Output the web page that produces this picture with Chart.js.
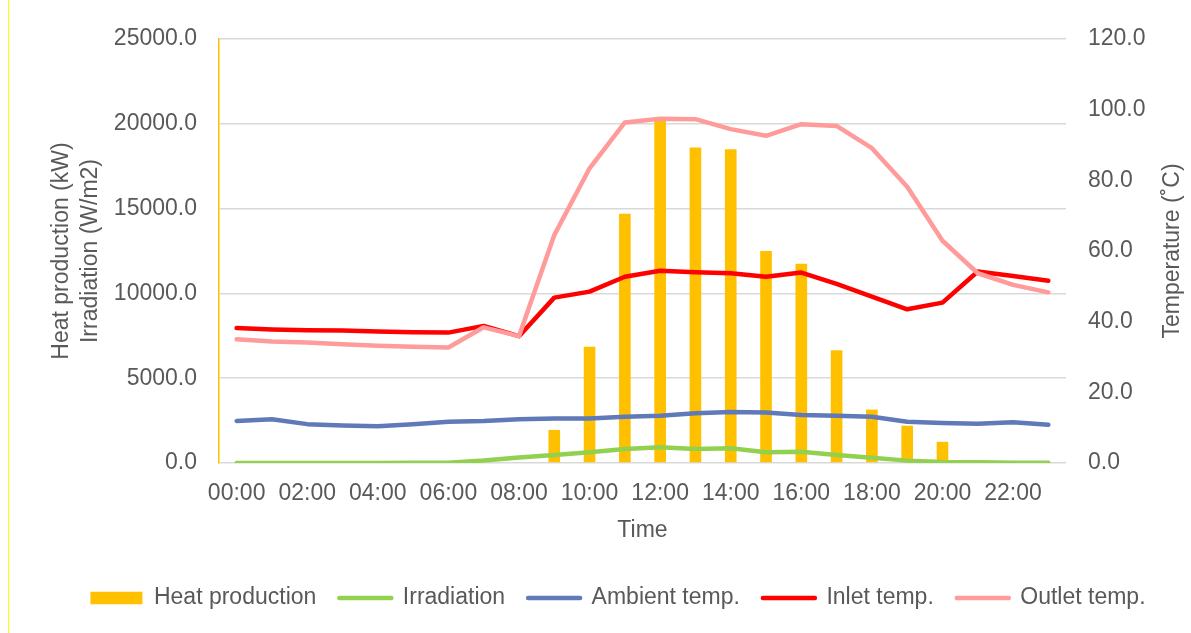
<!DOCTYPE html>
<html>
<head>
<meta charset="utf-8">
<title>Heat production and temperatures</title>
<script src="https://cdn.jsdelivr.net/npm/chart.js@4.4.1/dist/chart.umd.min.js"></script>
<style>
  html, body { margin: 0; padding: 0; background: #fff; }
  #wrap { position: relative; width: 1191px; height: 633px; }
</style>
</head>
<body>
<div id="wrap"><canvas id="chart" width="1191" height="633"></canvas></div>
<script>
// Hourly data
const hours = ['00:00', '01:00', '02:00', '03:00', '04:00', '05:00', '06:00', '07:00',
  '08:00', '09:00', '10:00', '11:00', '12:00', '13:00', '14:00', '15:00',
  '16:00', '17:00', '18:00', '19:00', '20:00', '21:00', '22:00', '23:00'];

const heatProduction = [0, 0, 0, 0, 0, 0, 0, 0, 0, 1950, 6850, 14700,
  20250, 18600, 18500, 12500, 11750, 6650, 3150, 2200, 1250, 0, 0, 0];

const irradiation = [0, 0, 0, 0, 0, 10, 20, 150, 330, 470, 630, 825,
  925, 825, 865, 630, 670, 470, 315, 140, 60, 40, 20, 10];

const ambientTemp = [11.9, 12.4, 11.0, 10.6, 10.4, 11.0, 11.7, 11.9, 12.4, 12.6, 12.6, 13.1,
  13.4, 14.1, 14.4, 14.3, 13.6, 13.4, 13.1, 11.7, 11.3, 11.1, 11.5, 10.8];

const inletTemp = [38.2, 37.8, 37.6, 37.5, 37.2, 37.0, 36.9, 38.8, 35.9, 46.8, 48.5, 52.7,
  54.4, 54.0, 53.7, 52.7, 53.9, 50.7, 47.1, 43.5, 45.4, 54.2, 52.9, 51.6];

const outletTemp = [35.0, 34.4, 34.1, 33.6, 33.2, 32.9, 32.7, 38.4, 35.9, 64.5, 83.4, 96.4,
  97.4, 97.3, 94.5, 92.6, 95.9, 95.4, 89.1, 78.2, 62.9, 53.7, 50.4, 48.3];

const leftTitle = ['Heat production (kW)', 'Irradiation (W/m2)'];
const rightTitle = 'Temperature (˚C)';
const xTitle = 'Time';

const FONT = "'Liberation Sans', Arial, sans-serif";
const TEXT = '#595959';
const GRID = '#D9D9D9';
const LINE_W = 4.5;

function lineSet(label, data, color, order) {
  return {
    type: 'line',
    label: label,
    data: data,
    yAxisID: label === 'Irradiation' ? 'y' : 'y1',
    borderColor: color,
    backgroundColor: color,
    borderWidth: LINE_W,
    borderCapStyle: 'round',
    borderJoinStyle: 'round',
    pointRadius: 0,
    tension: 0,
    order: order
  };
}

// thin yellow page border on the far left
const pageLine = {
  id: 'pageLine',
  beforeDraw(chart) {
    const ctx = chart.ctx;
    ctx.save();
    ctx.strokeStyle = '#FFFF00';
    ctx.lineWidth = 1;
    ctx.beginPath();
    ctx.moveTo(8.5, 0);
    ctx.lineTo(8.5, chart.height);
    ctx.stroke();
    ctx.restore();
  }
};

// right axis title reads bottom-to-top in the original, so draw it here
const rightAxisTitle = {
  id: 'rightAxisTitle',
  afterDraw(chart) {
    const ctx = chart.ctx;
    const area = chart.chartArea;
    ctx.save();
    ctx.translate(1173, (area.top + area.bottom) / 2);
    ctx.rotate(-Math.PI / 2);
    ctx.fillStyle = TEXT;
    ctx.font = '23px ' + FONT;
    ctx.textAlign = 'center';
    ctx.textBaseline = 'middle';
    ctx.fillText(rightTitle, 0, 0);
    ctx.restore();
  }
};

const ctx = document.getElementById('chart');

new Chart(ctx, {
  type: 'bar',
  data: {
    labels: hours,
    datasets: [
      {
        label: 'Heat production',
        data: heatProduction,
        yAxisID: 'y',
        backgroundColor: '#FFC000',
        borderWidth: 0,
        barPercentage: 0.33,
        categoryPercentage: 1,
        order: 4
      },
      lineSet('Irradiation', irradiation, '#92D050', 3),
      lineSet('Ambient temp.', ambientTemp, '#5F79B9', 2),
      lineSet('Inlet temp.', inletTemp, '#FF0000', 1),
      lineSet('Outlet temp.', outletTemp, '#FF9B9B', 0)
    ]
  },
  options: {
    responsive: false,
    animation: false,
    layout: {
      padding: { left: 45, right: 0, top: 39, bottom: 13.5 }
    },
    plugins: {
      tooltip: { enabled: false },
      legend: {
        position: 'bottom',
        labels: {
          usePointStyle: true,
          pointStyleWidth: 52,
          boxHeight: 12.5,
          padding: 23,
          color: TEXT,
          font: { family: FONT, size: 23 },
          sort: (a, b) => a.datasetIndex - b.datasetIndex,
          generateLabels(chart) {
            const items = Chart.defaults.plugins.legend.labels.generateLabels(chart);
            items.forEach(item => {
              const ds = chart.data.datasets[item.datasetIndex];
              if (ds.type === 'line') {
                item.pointStyle = 'line';
                item.strokeStyle = ds.borderColor;
                item.lineWidth = LINE_W;
                item.lineCap = 'round';
              } else {
                item.pointStyle = 'rect';
                item.fillStyle = ds.backgroundColor;
                item.lineWidth = 0;
              }
            });
            return items;
          }
        }
      }
    },
    scales: {
      x: {
        grid: { display: false },
        border: { display: false },
        ticks: {
          autoSkip: false,
          maxRotation: 0,
          minRotation: 0,
          padding: 9,
          color: TEXT,
          font: { family: FONT, size: 23 },
          callback: (v, i) => (i % 2 === 0 ? hours[i] : '')
        },
        title: {
          display: true,
          text: xTitle,
          color: TEXT,
          font: { family: FONT, size: 23 },
          padding: { top: 0, bottom: 18.7 }
        },
        afterFit(scale) { scale.height = 100.5; }
      },
      y: {
        position: 'left',
        min: 0,
        max: 25000,
        ticks: {
          stepSize: 5000,
          padding: 22,
          color: TEXT,
          font: { family: FONT, size: 23 },
          callback: v => v.toFixed(1)
        },
        grid: { color: GRID, lineWidth: 1.5, drawTicks: false },
        border: { display: true, color: '#FFC000', width: 1.5 },
        title: {
          display: true,
          text: leftTitle,
          color: TEXT,
          font: { family: FONT, size: 23, lineHeight: 1.26 },
          padding: { top: 2, bottom: 0 }
        },
        afterFit(scale) { scale.width = 174; }
      },
      y1: {
        position: 'right',
        min: 0,
        max: 120,
        ticks: {
          stepSize: 20,
          padding: 22,
          color: TEXT,
          font: { family: FONT, size: 23 },
          callback: v => v.toFixed(1)
        },
        grid: { display: false, drawTicks: false },
        border: { display: false },
        afterFit(scale) { scale.width = 125; }
      }
    }
  },
  plugins: [pageLine, rightAxisTitle]
});
</script>
</body>
</html>
